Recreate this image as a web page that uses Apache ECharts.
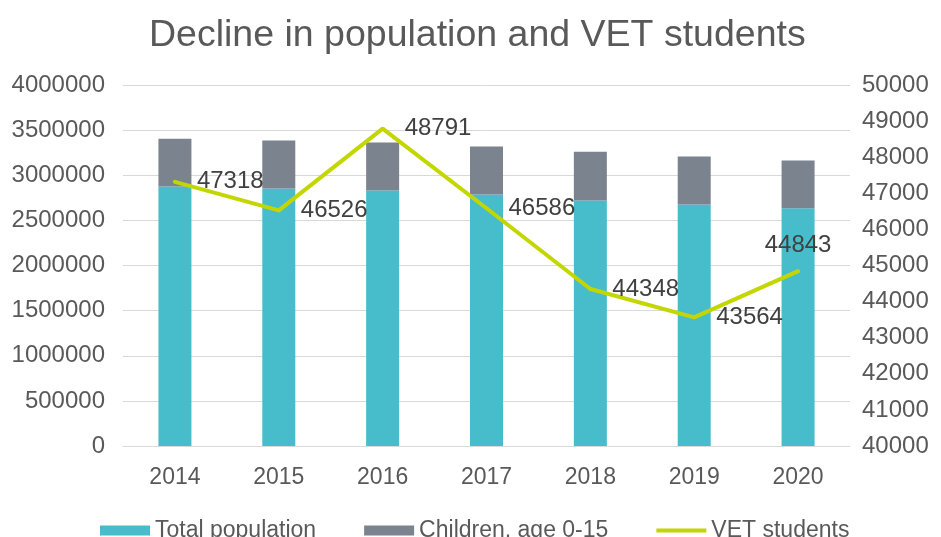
<!DOCTYPE html>
<html>
<head>
<meta charset="utf-8">
<title>Decline in population and VET students</title>
<script src="https://cdn.jsdelivr.net/npm/echarts@6/dist/echarts.min.js"></script>
<style>
	html, body { margin: 0; padding: 0; background: #fff; }
	#main { width: 941px; height: 537px; }
</style>
</head>
<body>
<div id="main"></div>
<script>
	// data
	var years = ['2014', '2015', '2016', '2017', '2018', '2019', '2020'];
	var totalPopulation = [2876000, 2854000, 2832000, 2788000, 2721000, 2677000, 2633000];
	var children = [528000, 530000, 530000, 531000, 540000, 531000, 531000];
	var vetStudents = [47318, 46526, 48791, 46586, 44348, 43564, 44843];

	var font = 'Liberation Sans, Arial, sans-serif';
	var textColor = '#595959';
	var lineColor = '#c4d600';
	var plain = function (v) { return String(v); };

	var myChart = echarts.init(document.getElementById('main'));
	var option = {
		animation: false,
		title: {
			text: 'Decline in population and VET students',
			left: 144,
			top: 12,
			textStyle: { fontFamily: font, fontSize: 37.5, fontWeight: 'normal', color: textColor }
		},
		legend: {
			left: 95,
			top: 514,
			itemWidth: 50,
			itemHeight: 10,
			itemGap: 48,
			textStyle: { fontFamily: font, fontSize: 23, color: textColor },
			data: [
				{ name: 'Total population', icon: 'rect' },
				{ name: 'Children, age 0-15', icon: 'rect' },
				{ name: 'VET students', icon: 'path://M0,0 H50 V4 H0 Z', itemStyle: { color: lineColor } }
			]
		},
		grid: { left: 123, right: 91, top: 85, bottom: 91 },
		xAxis: [{
			type: 'category',
			data: years,
			axisLine: { lineStyle: { color: '#d9d9d9' } },
			axisTick: { show: false },
			axisLabel: { fontFamily: font, fontSize: 23, color: textColor, margin: 20 }
		}],
		yAxis: [{
			type: 'value',
			min: 0,
			max: 4000000,
			interval: 500000,
			axisLine: { show: false },
			axisTick: { show: false },
			splitLine: { lineStyle: { color: '#d9d9d9' } },
			axisLabel: { fontFamily: font, fontSize: 24, color: textColor, margin: 18, formatter: plain }
		}, {
			type: 'value',
			min: 40000,
			max: 50000,
			interval: 1000,
			axisLine: { show: false },
			axisTick: { show: false },
			splitLine: { show: false },
			axisLabel: { fontFamily: font, fontSize: 24, color: textColor, margin: 12, formatter: plain }
		}],
		series: [{
			name: 'Total population',
			type: 'bar',
			stack: 'pop',
			barWidth: 33,
			itemStyle: { color: '#47bdcb' },
			data: totalPopulation
		}, {
			name: 'Children, age 0-15',
			type: 'bar',
			stack: 'pop',
			barWidth: 33,
			itemStyle: { color: '#7b838f' },
			data: children
		}, {
			name: 'VET students',
			type: 'line',
			yAxisIndex: 1,
			symbol: 'circle',
			symbolSize: 4,
			showSymbol: true,
			lineStyle: { color: lineColor, width: 4 },
			itemStyle: { color: lineColor },
			label: {
				show: true,
				position: 'right',
				distance: 20,
				fontFamily: font,
				fontSize: 24,
				color: '#404040',
				formatter: function (p) { return String(p.value); }
			},
			labelLayout: { hideOverlap: false },
			data: vetStudents.map(function (v, i) {
				// last value sits above the point
				if (i === vetStudents.length - 1) {
					return { value: v, label: { position: 'top', distance: 12 } };
				}
				return v;
			})
		}]
	};
	myChart.setOption(option);
</script>
</body>
</html>
